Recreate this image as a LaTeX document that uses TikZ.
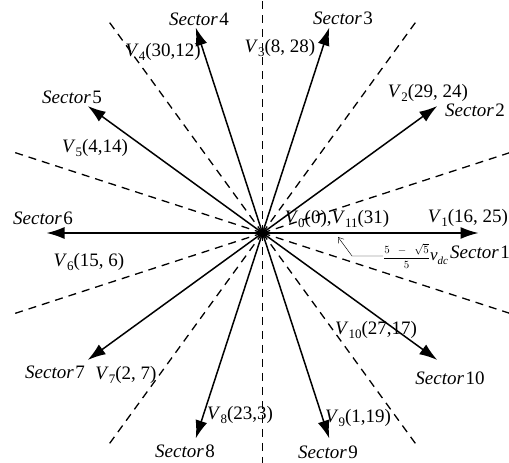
\documentclass[tikz,border=0pt]{standalone}
\usepackage{fontspec}
\setmainfont{Liberation Serif}
\usetikzlibrary{arrows.meta,calc}
\newcommand\Vlab[2]{\textit{V}\raisebox{-0.45ex}{\fontsize{13}{13}\selectfont #1}#2}
\newcommand\Slab[1]{\textit{Sector}\kern1.5pt#1}
\begin{document}
\begin{tikzpicture}[x=1pt,y=1pt,
  vec/.style={line width=1.5pt,-{Latex[length=18pt,width=12pt]}},
  sep/.style={line width=1.3pt,dash pattern=on 8pt off 6pt},
  lab/.style={font=\fontsize{19}{21}\selectfont,inner sep=0pt},
  note/.style={line width=0.45pt,-{Straight Barb[length=5pt,width=7pt]}}]
\useasboundingbox (0,0) rectangle (509,463);
\coordinate (O) at (262.5,230);
\foreach \i in {1,...,10}{\coordinate (t\i) at ($(O)+({(\i-1)*36}:216)$);}
\foreach \a in {18,54,126,162,198,234,306,342}{\coordinate (d\a) at ($(O)+(\a:260)$);}
\coordinate (dtop) at (262.5,463);
\coordinate (dbot) at (262.5,0);
% dashed sector boundaries
\foreach \a in {18,54,126,162,198,234,306,342}{\draw[sep] (O) -- (d\a);}
\draw[sep] (O) -- (dtop);
\draw[sep] (O) -- (dbot);
% vectors
\foreach \i in {1,...,10}{\draw[vec] (O) -- (t\i);}
\fill (O) circle (3.5);
% sector labels
\node[lab] (s1) at (480,211) {\Slab{1}};
\node[lab] (s2) at (475,353) {\Slab{2}};
\node[lab] (s3) at (343,445) {\Slab{3}};
\node[lab] (s4) at (199,444) {\Slab{4}};
\node[lab] (s5) at (72,366) {\Slab{5}};
\node[lab] (s6) at (43,245) {\Slab{6}};
\node[lab] (s7) at (55,91) {\Slab{7}};
\node[lab] (s8) at (185,12) {\Slab{8}};
\node[lab] (s9) at (328,11) {\Slab{9}};
\node[lab] (s10) at (450,85) {\Slab{10}};
% vector labels
\node[lab] (v0) at (337,244) {\Vlab{0}{(0),}\Vlab{11}{(31)}};
\node[lab] (v1) at (468,245) {\Vlab{1}{(16, 25)}};
\node[lab] (v2) at (428,370) {\Vlab{2}{(29, 24)}};
\node[lab] (v3) at (280,415) {\Vlab{3}{(8, 28)}};
\node[lab] (v4) at (163,411) {\Vlab{4}{(30,12)}};
\node[lab] (v5) at (95,315) {\Vlab{5}{(4,14)}};
\node[lab] (v6) at (89,201) {\Vlab{6}{(15, 6)}};
\node[lab] (v7) at (126,88) {\Vlab{7}{(2, 7)}};
\node[lab] (v8) at (240,48) {\Vlab{8}{(23,3)}};
\node[lab] (v9) at (358,45) {\Vlab{9}{(1,19)}};
\node[lab] (v10) at (376,133) {\Vlab{10}{(27,17)}};
% annotation
\node[inner sep=0pt,anchor=west] (frac) at (383,207)
  {\fontsize{11}{12}\selectfont$\displaystyle\frac{5\ \ -\ \ \sqrt{5}}{5}$\fontsize{17}{18}\selectfont\textit{v}\raisebox{-0.5ex}{\fontsize{11}{11}\selectfont\textit{dc}}};
\coordinate (kink) at (352,207);
\coordinate (ptr) at (338,226);
\draw[note] (frac.west) -- (kink) -- (ptr);
\end{tikzpicture}
\end{document}
